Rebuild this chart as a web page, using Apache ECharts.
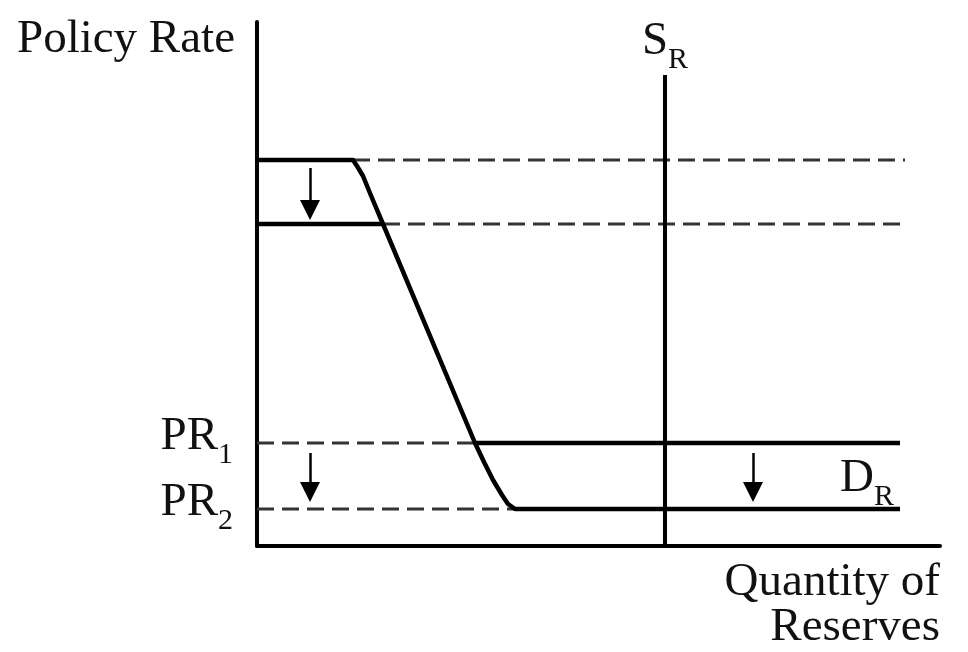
<!DOCTYPE html>
<html>
<head>
<meta charset="utf-8">
<script src="https://cdn.jsdelivr.net/npm/echarts@6/dist/echarts.min.js"></script>
<style>html,body{margin:0;padding:0;background:#fff}#c{width:968px;height:652px}</style>
</head>
<body>
<div id="c"></div>
<script>
// Values in chart units (x: quantity of reserves, y: policy rate)
const demandMain = [[0,386],[96,386],[100,380],[106,370],[115,348],[126,322],[218,103],[227,84],[236,66],[245,51],[251,42],[258,37],[643,37]];
const demandShiftTop = [[0,322],[126,322]];
const demandPR1 = [[218,103],[643,103]];
const dashedLines = [
  [[96,386],[648,386]],
  [[126,322],[648,322]],
  [[0,103],[218,103]],
  [[0,37],[258,37]]
];
const supplyLine = [[408,0],[408,471]];
const arrows = [
  [[53,378],[53,326]],
  [[53,93],[53,44]],
  [[496,93],[496,44]]
];
const rateTicks = [37,103];
const rateTickLabels = {37:['PR','2'],103:['PR','1']};
const curveLabels = [
  {name:'S', sub:'R', value:[408,471]},
  {name:'D', sub:'R', value:[610,57]}
];
const yAxisTitle = 'Policy Rate';
const xAxisTitle = 'Quantity of\nReserves';

const FONT = '"Liberation Serif","DejaVu Serif",serif';
const HEAD = 20;
const richStyle = {
  m:{fontSize:47, lineHeight:47, fontFamily:FONT, color:'#111', verticalAlign:'bottom', padding:[0,0,10,0]},
  s:{fontSize:30, lineHeight:30, fontFamily:FONT, color:'#111', verticalAlign:'bottom'}
};

const chart = echarts.init(document.getElementById('c'), null, {renderer:'canvas'});
const lineBase = (data, width, dashed) => ({
  type:'line', data, symbol:'none', silent:true, animation:false,
  lineStyle:{color: dashed ? '#333' : '#000', width, type: dashed ? [17,8] : 'solid', cap:'butt', join:'round'},
  z: dashed ? 2 : 3
});
const series = [];
dashedLines.forEach(d => series.push(lineBase(d, 3, true)));
series.push(lineBase(demandMain, 4.5, false));
series.push(lineBase(demandShiftTop, 4.5, false));
series.push(lineBase(demandPR1, 4.5, false));
series.push(lineBase(supplyLine, 4, false));
series.push({
  type:'lines', coordinateSystem:'cartesian2d', silent:true, animation:false,
  symbol:['none','triangle'], symbolSize:[11, HEAD],
  lineStyle:{color:'#000', width:2.5, opacity:1},
  data: arrows.map(a => ({coords:[a[0],[a[1][0], a[1][1] + HEAD/2]]})),
  z:4
});
series.push({
  type:'scatter', symbolSize:0, silent:true, animation:false,
  itemStyle:{opacity:1},
  data: curveLabels.map(l => ({value:l.value, label:{
    show:true, position: l.name === 'S' ? 'top' : 'inside', distance:0, opacity:1,
    formatter:'{m|' + l.name + '}{s|' + l.sub + '}', rich:richStyle
  }})),
  z:5
});

chart.setOption({
  animation:false,
  grid:{left:257, right:28, top:22, bottom:106, containLabel:false},
  xAxis:{
    type:'value', min:0, max:683,
    axisLine:{show:true, lineStyle:{color:'#000', width:4}},
    axisTick:{show:false}, axisLabel:{show:false}, splitLine:{show:false},
    name:xAxisTitle, nameLocation:'end', nameGap:0,
    nameTextStyle:{fontFamily:FONT, fontSize:47, lineHeight:45, color:'#111', align:'right', verticalAlign:'top', padding:[14,0,0,0]}
  },
  yAxis:{
    type:'value', min:0, max:524,
    axisLine:{show:true, lineStyle:{color:'#000', width:4}},
    axisTick:{show:false}, splitLine:{show:false},
    axisLabel:{
      show:true, customValues:rateTicks, margin:24,
      formatter:v => { const t = rateTickLabels[v]; return t ? '{m|' + t[0] + '}{s|' + t[1] + '}' : ''; },
      rich:richStyle, verticalAlign:'middle', padding:[8,0,0,0]
    },
    name:yAxisTitle, nameLocation:'end', nameGap:6,
    nameTextStyle:{fontFamily:FONT, fontSize:47, lineHeight:47, color:'#111', align:'right', verticalAlign:'top', padding:[0,22,0,0]}
  },
  series
});
</script>
</body>
</html>
